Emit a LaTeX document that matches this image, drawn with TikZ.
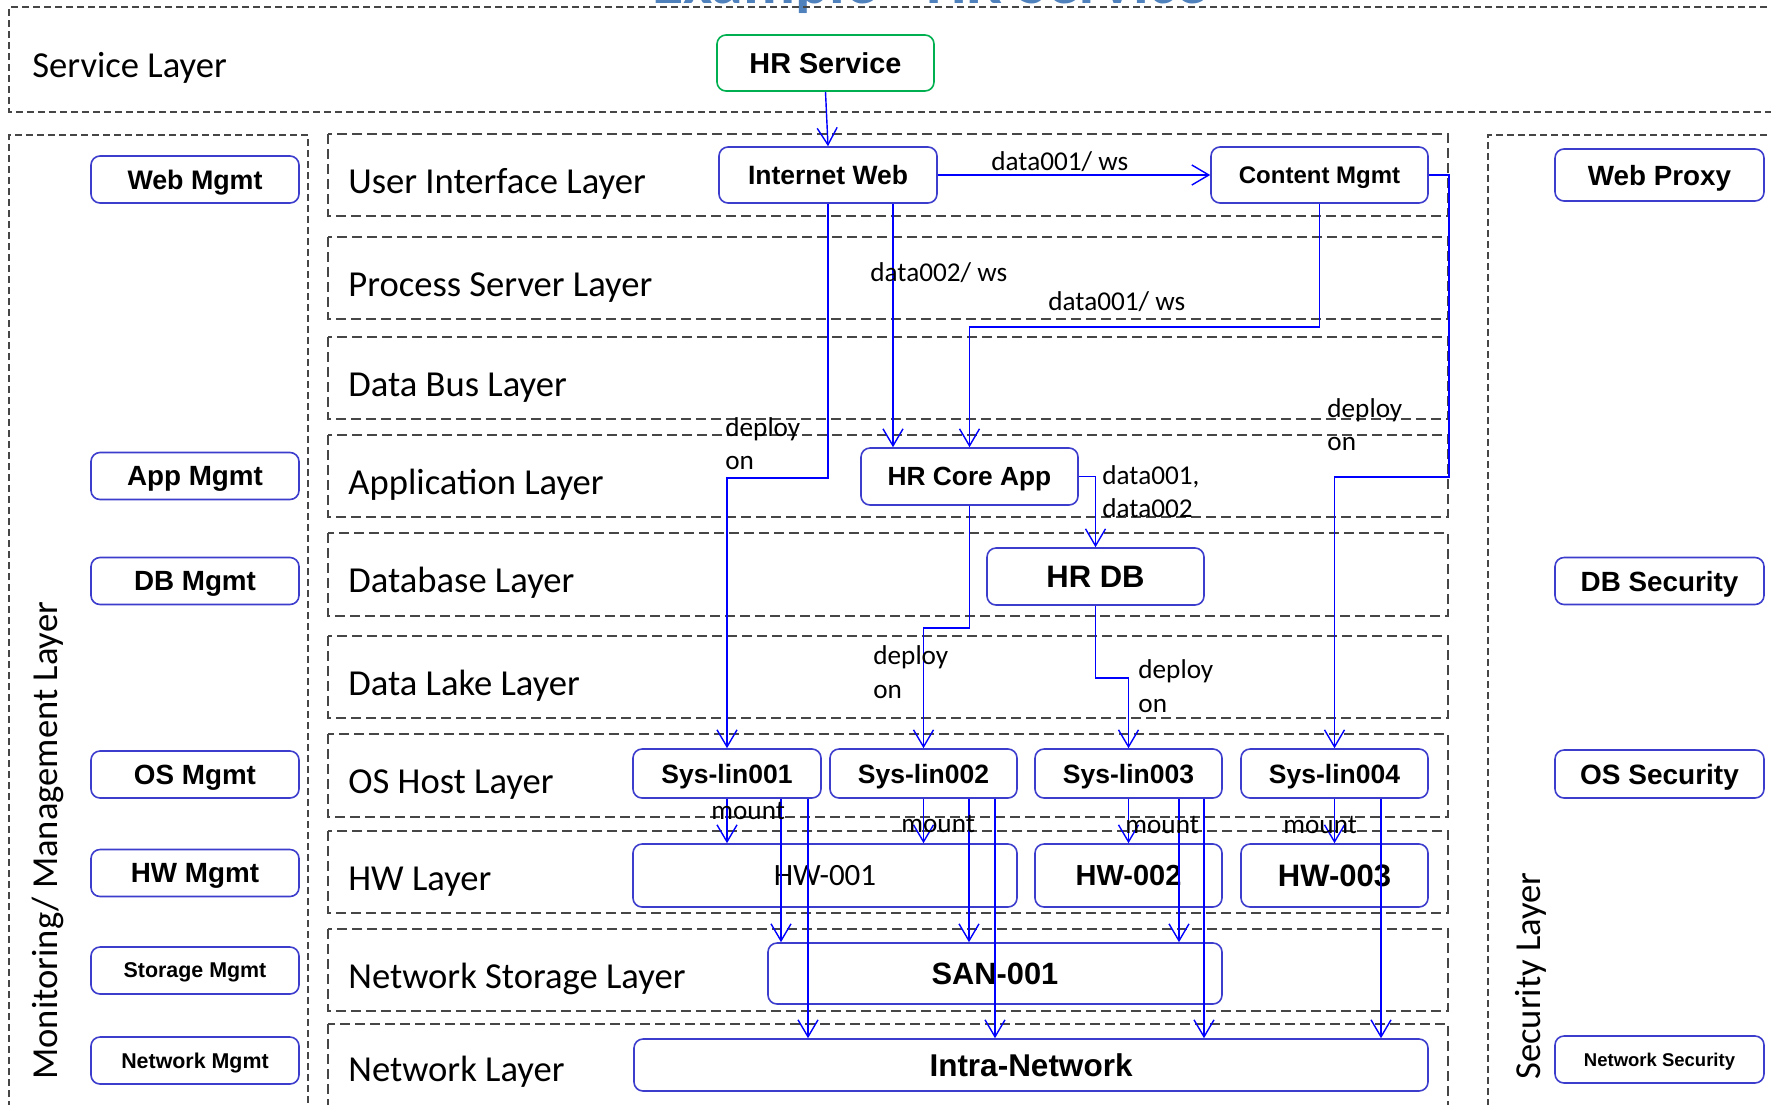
\documentclass[tikz,border=0pt]{standalone}
\usepackage{fontspec}
\setmainfont{Carlito}
\newfontfamily\arialf{Liberation Sans}
\usetikzlibrary{arrows.meta,calc}
\definecolor{boxblue}{RGB}{60,60,205}
\definecolor{lineblue}{RGB}{0,0,255}
\definecolor{hrgreen}{RGB}{0,176,80}
\definecolor{dashgray}{RGB}{70,70,70}
\definecolor{titleblue}{RGB}{79,129,189}
\newcommand\fsz[1]{\fontsize{#1}{#1}\selectfont}
\newcommand\abf[1]{\arialf\bfseries\fontsize{#1}{#1}\selectfont}
\begin{document}
\begin{tikzpicture}[x=0.5pt,y=-0.5pt,
 box/.style={draw=boxblue,line width=0.8pt,rounded corners=4.5pt,fill=white,inner sep=0pt,text depth=0pt},
 bsize/.style n args={2}{minimum width={#1*0.5pt},minimum height={#2*0.5pt}},
 layer/.style={draw=dashgray,line width=0.65pt,dash pattern=on 5pt off 2.5pt},
 outer/.style={draw=dashgray,line width=0.7pt,dash pattern=on 3.5pt off 2pt},
 arr/.style={draw=lineblue,line width=0.7pt,-{Straight Barb[length=8.5pt,width=10pt]}},
 lbl/.style={anchor=base west,inner sep=0pt,font=\fsz{13.6pt}},
 laylbl/.style={anchor=base west,inner sep=0pt,font=\fsz{18.3pt}},
]
\useasboundingbox (0,0) rectangle (1771,1104);

% title (cut off at the top, as in the reference)
\node[anchor=base,inner sep=0pt,text=titleblue,font=\bfseries\fsz{32pt}] (title) at (930,3) {Example - HR Service};

% outer dashed regions
\draw[outer] (1800,7) -- (9,7) -- (9,112) -- (1800,112);
\draw[outer] (9,1130) -- (9,135) -- (308,135) -- (308,1130);
\draw[outer] (1800,135) -- (1488,135) -- (1488,1130);

% layer bands
\draw[layer] (328,134) rectangle (1448,216);
\draw[layer] (328,237) rectangle (1448,319);
\draw[layer] (328,337) rectangle (1448,419);
\draw[layer] (328,435) rectangle (1448,517);
\draw[layer] (328,533) rectangle (1448,616);
\draw[layer] (328,636) rectangle (1448,718);
\draw[layer] (328,734) rectangle (1448,817);
\draw[layer] (328,831) rectangle (1448,913);
\draw[layer] (328,929) rectangle (1448,1011);
\draw[layer] (328,1024) rectangle (1448,1130);

% layer labels
\node[laylbl] (lServ) at (32,77) {Service Layer};
\node[laylbl] (lUI) at (348,193) {User Interface Layer};
\node[laylbl] (lPS) at (348,296) {Process Server Layer};
\node[laylbl] (lDBus) at (348,396) {Data Bus Layer};
\node[laylbl] (lApp) at (348,494) {Application Layer};
\node[laylbl] (lDB) at (348,592) {Database Layer};
\node[laylbl] (lLake) at (348,695) {Data Lake Layer};
\node[laylbl] (lOS) at (348,793) {OS Host Layer};
\node[laylbl] (lHW) at (348,890) {HW Layer};
\node[laylbl] (lNS) at (348,988) {Network Storage Layer};
\node[laylbl] (lNet) at (348,1081) {Network Layer};
\node[laylbl,rotate=90] (lMon) at (57,1080) {Monitoring/ Management Layer};
\node[laylbl,rotate=90] (lSec) at (1540,1080) {Security Layer};

% management boxes
\node[box,bsize={208}{47},font=\abf{13.4pt}] (webm) at (195,179.5) {Web Mgmt};
\node[box,bsize={208}{47},font=\abf{13.9pt}] (appm) at (195,476) {App Mgmt};
\node[box,bsize={208}{47},font=\abf{13.9pt}] (dbm) at (195,581) {DB Mgmt};
\node[box,bsize={208}{47},font=\abf{13.9pt}] (osm) at (195,774.5) {OS Mgmt};
\node[box,bsize={208}{47},font=\abf{13.9pt}] (hwm) at (195,873) {HW Mgmt};
\node[box,bsize={208}{47},font=\abf{10.7pt}] (stm) at (195,970.5) {Storage Mgmt};
\node[box,bsize={208}{47},font=\abf{10.7pt}] (netm) at (195,1060.5) {Network Mgmt};

% security boxes
\node[box,bsize={209}{52},font=\abf{13.9pt}] (wp) at (1659.5,175) {Web Proxy};
\node[box,bsize={209}{47},font=\abf{13.9pt}] (dbs) at (1659.5,581) {DB Security};
\node[box,bsize={209}{48},font=\abf{14pt}] (oss) at (1659.5,774) {OS Security};
\node[box,bsize={209}{47},font=\abf{9.25pt}] (nets) at (1659.5,1059.5) {Network Security};

% main boxes
\node[box,draw=hrgreen,bsize={217}{56},font=\abf{14.4pt}] (hrs) at (825.5,63) {HR Service};
\node[box,bsize={218}{56},font=\abf{13.25pt}] (iw) at (828,175) {Internet Web};
\node[box,bsize={217}{56},font=\abf{12pt}] (cm) at (1319.5,175) {Content Mgmt};
\node[box,bsize={217}{57},font=\abf{13.15pt}] (core) at (969.5,476.5) {HR Core App};
\node[box,bsize={217}{57},font=\abf{15.5pt}] (db) at (1095.5,576.5) {HR DB};
\node[box,bsize={188}{49},font=\abf{13.25pt}] (s1) at (727,773.5) {Sys-lin001};
\node[box,bsize={187}{49},font=\abf{13.25pt}] (s2) at (923.5,773.5) {Sys-lin002};
\node[box,bsize={187}{49},font=\abf{13.25pt}] (s3) at (1128.5,773.5) {Sys-lin003};
\node[box,bsize={187}{49},font=\abf{13.25pt}] (s4) at (1334.5,773.5) {Sys-lin004};
\node[box,bsize={384}{63},font=\fsz{15.5pt}] (hw1) at (825,875.5) {HW-001};
\node[box,bsize={187}{63},font=\abf{14.5pt}] (hw2) at (1128.5,875.5) {HW-002};
\node[box,bsize={187}{63},font=\abf{15.5pt}] (hw3) at (1334.5,875.5) {HW-003};
\node[box,bsize={454}{61},font=\abf{15.4pt}] (san) at (995,973.5) {SAN-001};
\node[box,bsize={794}{52},font=\abf{15.75pt}] (net) at (1031,1065) {Intra-Network};

% connectors
\draw[arr] (hrs.south) -- (iw.north);
\draw[arr] (iw.east) -- (cm.west);
\draw[arr] ($(iw.south)+(65,0)$) -- ($(core.north)+(-76.5,0)$);
\draw[arr] (cm.south) -- ++(0,123) -| (core.north);
\draw[arr] (iw.south) -- ++(0,274) -| (s1.north);
\draw[arr] (cm.east) -- ++(20,0) -- ++(0,302) -| (s4.north);
\draw[arr] (core.east) -| (db.north);
\draw[arr] (core.south) -- ++(0,122) -| (s2.north);
\draw[arr] (db.south) -- ++(0,72) -| (s3.north);
% mount
\draw[arr] (s1.south) -- (s1.south |- hw1.north);
\draw[arr] (s2.south) -- (s2.south |- hw1.north);
\draw[arr] (s3.south) -- (hw2.north);
\draw[arr] (s4.south) -- (hw3.north);
% storage and network
\draw[arr] ($(s1.south)+(54,0)$) -- ($(san.north)+(-214,0)$);
\draw[arr] ($(s1.south)+(81,0)$) -- ($(net.north)+(-223,0)$);
\draw[arr] ($(s2.south)+(45.5,0)$) -- ($(san.north)+(-26,0)$);
\draw[arr] ($(s2.south)+(71.5,0)$) -- ($(net.north)+(-36,0)$);
\draw[arr] ($(s3.south)+(50.5,0)$) -- ($(san.north)+(184,0)$);
\draw[arr] ($(s3.south)+(75.5,0)$) -- ($(net.north)+(173,0)$);
\draw[arr] ($(s4.south)+(46.5,0)$) -- ($(net.north)+(350,0)$);

% connector labels
\node[lbl] (t1) at (991,170) {data001/ ws};
\node[lbl] (t2) at (870,281) {data002/ ws};
\node[lbl] (t3) at (1048,310) {data001/ ws};
\node[lbl] (t4a) at (725,436) {deploy};
\node[lbl] (t4b) at (725,469) {on};
\node[lbl] (t5a) at (1327,417) {deploy};
\node[lbl] (t5b) at (1327,450) {on};
\node[lbl] (t6a) at (1102,484) {data001,};
\node[lbl] (t6b) at (1102,517) {data002};
\node[lbl] (t7a) at (873,664) {deploy};
\node[lbl] (t7b) at (873,698) {on};
\node[lbl] (t8a) at (1138,678) {deploy};
\node[lbl] (t8b) at (1138,712) {on};
\node[lbl] (m1) at (711,819) {mount};
\node[lbl] (m2) at (901,832) {mount};
\node[lbl] (m3) at (1125,833) {mount};
\node[lbl] (m4) at (1283,833) {mount};
\end{tikzpicture}
\end{document}
